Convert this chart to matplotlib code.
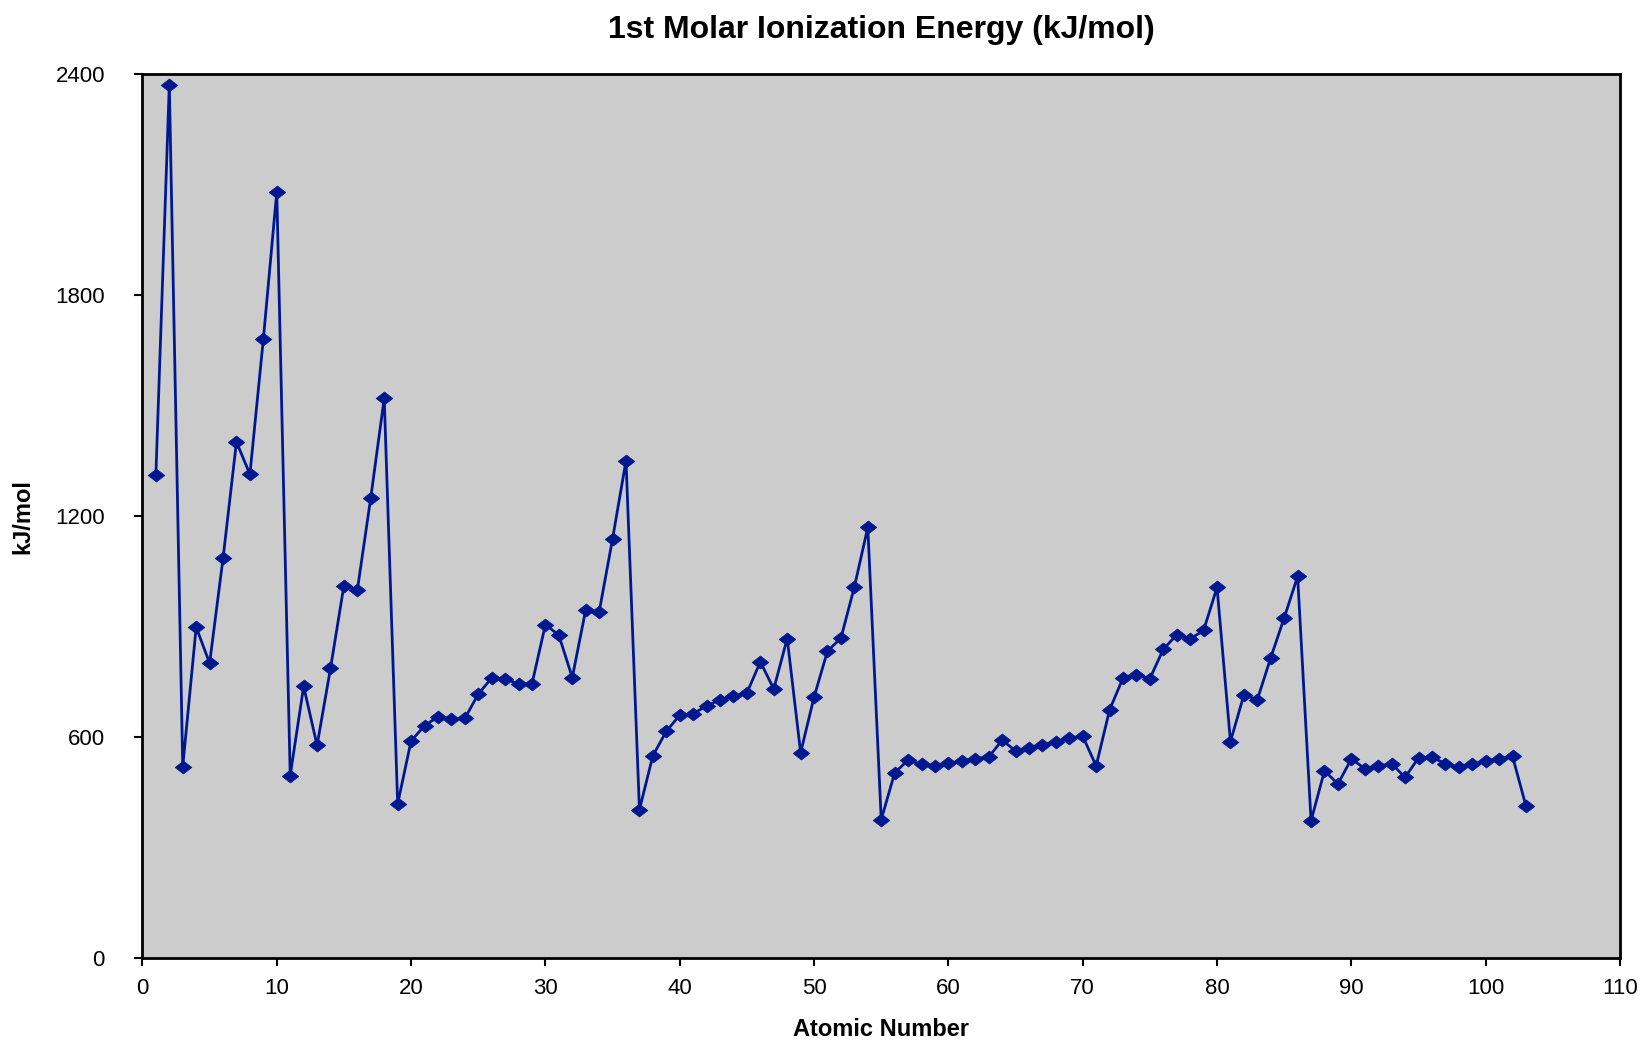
import matplotlib
matplotlib.use("Agg")
import matplotlib.pyplot as plt
from matplotlib.path import Path

plt.rcParams['font.family'] = ['Liberation Sans', 'DejaVu Sans']

atomic_number = list(range(1, 104))
ionization_energy = [
    1312, 2372, 520, 899, 801, 1086, 1402, 1314, 1681, 2081,      # 1-10
    496, 738, 578, 787, 1012, 1000, 1251, 1521, 419, 590,         # 11-20
    631, 656, 649, 651, 717, 761, 759, 744, 745, 906,             # 21-30
    877, 762, 946, 940, 1139, 1351, 403, 550, 616, 660,           # 31-40
    664, 685, 702, 711, 720, 805, 731, 868, 558, 709,             # 41-50
    834, 869, 1008, 1170, 376, 503, 538, 526, 522, 529,           # 51-60
    535, 542, 546, 592, 563, 571, 579, 588, 597, 603,             # 61-70
    522, 674, 761, 769, 759, 839, 878, 867, 890, 1007,            # 71-80
    588, 715, 702, 816, 924, 1037, 373, 509, 473, 541,            # 81-90
    515, 521, 528, 491, 544, 546, 528, 519, 526, 535,             # 91-100
    541, 548, 413,                                                # 101-103
]

x_ticks = list(range(0, 111, 10))
y_ticks = [0, 600, 1200, 1800, 2400]

fig = plt.figure(figsize=(16.43, 10.41), dpi=100)
ax = fig.add_axes([0.0867, 0.0796, 0.8993, 0.8489])
ax.set_facecolor('#CCCCCC')

diamond = Path([(-1, 0), (0, 0.78), (1, 0), (0, -0.78), (-1, 0)],
               [Path.MOVETO, Path.LINETO, Path.LINETO, Path.LINETO, Path.CLOSEPOLY])
color = '#00188F'
ax.plot(atomic_number, ionization_energy, color=color, lw=2.0,
        marker=diamond, markersize=12, markerfacecolor=color,
        markeredgecolor=color, markeredgewidth=0.5, clip_on=False)

ax.set_xlim(0, 110)
ax.set_ylim(0, 2400)
ax.set_xticks(x_ticks)
ax.set_yticks(y_ticks)
ax.tick_params(axis='both', direction='out', length=6, width=1.5,
               labelsize=16, colors='black')
ax.tick_params(axis='x', pad=8)
ax.tick_params(axis='y', pad=21)
for s in ax.spines.values():
    s.set_linewidth(2.0)
    s.set_color('black')

ax.set_title('1st Molar Ionization Energy (kJ/mol)', fontsize=23,
             fontweight='bold', pad=26)
ax.set_xlabel('Atomic Number', fontsize=17, fontweight='bold', labelpad=14)
ax.set_ylabel('kJ/mol', fontsize=17, fontweight='bold', labelpad=15)

fig.savefig('out.png', dpi=100, facecolor='white')
